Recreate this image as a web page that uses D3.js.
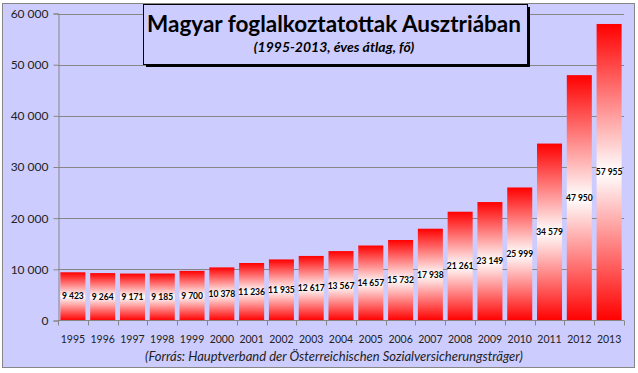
<!DOCTYPE html>
<html>
<head>
<meta charset="utf-8">
<script src="https://cdn.jsdelivr.net/npm/d3@7"></script>
<style>
  body { margin: 0; background: #fff; }
  text { font-family: Lato, "DejaVu Sans", sans-serif; }
</style>
</head>
<body>
<svg id="chart" width="638" height="373"></svg>
<script>
// data
const years = ["1995","1996","1997","1998","1999","2000","2001","2002","2003","2004",
               "2005","2006","2007","2008","2009","2010","2011","2012","2013"]
const employed = [9423, 9264, 9171, 9185, 9700, 10378, 11236, 11935, 12617, 13567,
                  14657, 15732, 17938, 21261, 23149, 25999, 34579, 47950, 57955]
const yTicks = [0, 10000, 20000, 30000, 40000, 50000, 60000]
const title = "Magyar foglalkoztatottak Ausztriában"
const subtitle = "(1995-2013, éves átlag, fő)"
const source = "(Forrás: Hauptverband der Österreichischen Sozialversicherungsträger)"

const svg = d3.select("#chart")
const fmt = d => d3.format(",")(d).replace(/,/g, " ")

// chart background
svg.append("rect")
    .attr("x", 2.5).attr("y", 3.5)
    .attr("width", 632).attr("height", 364)
    .attr("fill", "#ccccff")
    .attr("stroke", "#868686")

const plotLeft = 58, plotRight = 624, plotTop = 13.5, plotBottom = 320.5

const x = d3.scaleBand().domain(years).range([plotLeft, plotRight]).paddingInner(0.16).paddingOuter(0.08)
const y = d3.scaleLinear().domain([0, 60000]).range([plotBottom, plotTop])

// gradient for bars
const grad = svg.append("defs").append("linearGradient")
    .attr("id", "barGrad").attr("x1", 0).attr("y1", 0).attr("x2", 0).attr("y2", 1)
grad.append("stop").attr("offset", "0%").attr("stop-color", "#ff0000")
grad.append("stop").attr("offset", "50%").attr("stop-color", "#ffffff")
grad.append("stop").attr("offset", "100%").attr("stop-color", "#ff0000")

// gridlines
svg.append("g").selectAll("line")
    .data(yTicks.slice(1))
    .join("line")
    .attr("x1", plotLeft).attr("x2", plotRight)
    .attr("y1", d => Math.round(y(d)) + 0.5).attr("y2", d => Math.round(y(d)) + 0.5)
    .attr("stroke", "#868686")

// y axis
const yAxis = svg.append("g")
    .attr("transform", `translate(${plotLeft + 0.5},0)`)
    .call(d3.axisLeft(y).tickValues(yTicks).tickFormat(fmt).tickSize(5).tickPadding(5))
yAxis.select(".domain").attr("stroke", "#868686")
yAxis.selectAll(".tick line").attr("stroke", "#868686")
yAxis.selectAll(".tick text").attr("font-size", 12).attr("fill", "#222")
    .style("font-family", "Lato, sans-serif")

// bars
const bars = svg.append("g").selectAll("g")
    .data(years.map((yr, i) => ({ yr, v: employed[i] })))
    .join("g")

bars.append("rect")
    .attr("x", d => x(d.yr))
    .attr("y", d => y(d.v))
    .attr("width", x.bandwidth())
    .attr("height", d => plotBottom - y(d.v))
    .attr("fill", "url(#barGrad)")

bars.append("text")
    .attr("x", d => x(d.yr) + x.bandwidth() / 2)
    .attr("y", d => (y(d.v) + plotBottom) / 2)
    .attr("dy", "0.35em")
    .attr("text-anchor", "middle")
    .attr("font-size", 8.5)
    .attr("font-weight", "bold")
    .attr("fill", "#000")
    .text(d => fmt(d.v))

// x axis
const xAxis = svg.append("g")
    .attr("transform", `translate(0,${plotBottom})`)
xAxis.append("line")
    .attr("x1", plotLeft).attr("x2", plotRight)
    .attr("stroke", "#868686")
xAxis.selectAll("line.tk")
    .data(d3.range(years.length + 1))
    .join("line")
    .attr("class", "tk")
    .attr("x1", i => Math.round(plotLeft + i * (plotRight - plotLeft) / years.length) + 0.5)
    .attr("x2", i => Math.round(plotLeft + i * (plotRight - plotLeft) / years.length) + 0.5)
    .attr("y1", 0).attr("y2", 5)
    .attr("stroke", "#868686")
xAxis.selectAll("text")
    .data(years)
    .join("text")
    .attr("x", d => x(d) + x.bandwidth() / 2)
    .attr("y", 22.5)
    .attr("text-anchor", "middle")
    .attr("font-size", 10.5)
    .attr("fill", "#222")
    .text(d => d)

// source
svg.append("text")
    .attr("x", 334).attr("y", 361)
    .attr("text-anchor", "middle")
    .attr("font-size", 13)
    .attr("font-style", "italic")
    .attr("fill", "#222")
    .text(source)

// title box
svg.append("rect")
    .attr("x", 146).attr("y", 7).attr("width", 384).attr("height", 60)
    .attr("fill", "#000")
svg.append("rect")
    .attr("x", 143.5).attr("y", 4.5).attr("width", 384).attr("height", 60)
    .attr("fill", "#ccccff").attr("stroke", "#000")

svg.append("text")
    .attr("x", 334).attr("y", 31.5)
    .attr("text-anchor", "middle")
    .attr("font-size", 22.5)
    .attr("font-weight", "bold")
    .attr("fill", "#000")
    .text(title)

svg.append("text")
    .attr("x", 334).attr("y", 52)
    .attr("text-anchor", "middle")
    .attr("font-size", 14)
    .attr("font-weight", "bold")
    .attr("font-style", "italic")
    .attr("fill", "#000")
    .text(subtitle)
</script>
</body>
</html>
